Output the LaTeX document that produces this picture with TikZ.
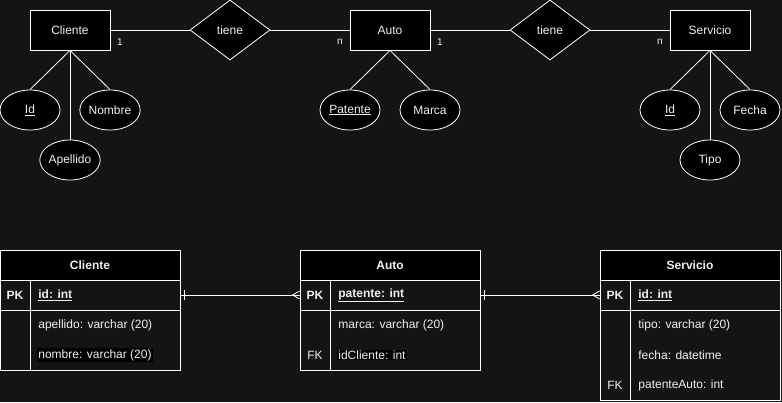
\documentclass[tikz,border=0pt]{standalone}
\usepackage{fontspec}
\setmainfont{Liberation Sans}
\usetikzlibrary{shapes.geometric}
\definecolor{bgc}{HTML}{141414}
\definecolor{txt}{HTML}{F0F0F0}
\tikzset{
  ent/.style={draw=white, fill=black, minimum width=80pt, minimum height=40pt, inner sep=0pt, text=txt, font=\fontsize{12}{14}\selectfont},
  rel/.style={diamond, draw=white, fill=black, minimum width=80pt, minimum height=60pt, inner sep=0pt, aspect=1.333, text=txt, font=\fontsize{12}{14}\selectfont},
  attr/.style={ellipse, draw=white, fill=black, minimum width=60pt, minimum height=40pt, inner sep=0pt, text=txt, font=\fontsize{12}{14}\selectfont},
  lnk/.style={draw=white, line width=0.8pt},
  card/.style={text=txt, font=\fontsize{10}{12}\selectfont, inner sep=0pt},
  thead/.style={draw=white, fill=black, minimum width=180pt, minimum height=30pt, inner sep=0pt, text=txt, font=\bfseries\fontsize{12}{14}\selectfont},
  trow/.style={draw=white, minimum width=180pt, inner sep=0pt},
  key/.style={text=txt, font=\fontsize{12}{14}\selectfont, inner sep=0pt},
  field/.style={anchor=west, text=txt, font=\fontsize{12}{14}\selectfont, inner sep=1pt},
}
\begin{document}
\begin{tikzpicture}[x=1pt, y=-1pt, line width=0.8pt]
\useasboundingbox (0,0) rectangle (782,402);
\fill[bgc] (0,0) rectangle (782,402);

% ---------- ER diagram ----------
\node[ent] (cli) at (70,30) {Cliente};
\node[rel] (r1) at (230,30) {tiene};
\node[ent] (aut) at (390,30) {Auto};
\node[rel] (r2) at (550,30) {tiene};
\node[ent] (ser) at (710,30) {Servicio};

\draw[lnk] (cli.east) -- (r1.west);
\draw[lnk] (r1.east) -- (aut.west);
\draw[lnk] (aut.east) -- (r2.west);
\draw[lnk] (r2.east) -- (ser.west);

\node[card] (c1) at (120,42) {1};
\node[card] (c2) at (340,42) {n};
\node[card] (c3) at (440,42) {1};
\node[card] (c4) at (660,42) {n};

\node[attr] (cid) at (30,110) {\underline{Id}};
\node[attr] (cnom) at (110,110) {Nombre};
\node[attr] (cape) at (70,160) {Apellido};
\draw[lnk] (cli.south) -- (cid.north);
\draw[lnk] (cli.south) -- (cnom.north);
\draw[lnk] (cli.south) -- (cape.north);

\node[attr] (apat) at (350,110) {\underline{Patente}};
\node[attr] (amar) at (430,110) {Marca};
\draw[lnk] (aut.south) -- (apat.north);
\draw[lnk] (aut.south) -- (amar.north);

\node[attr] (sid) at (670,110) {\underline{Id}};
\node[attr] (sfec) at (750,110) {Fecha};
\node[attr] (stip) at (710,160) {Tipo};
\draw[lnk] (ser.south) -- (sid.north);
\draw[lnk] (ser.south) -- (sfec.north);
\draw[lnk] (ser.south) -- (stip.north);

% ---------- Tables ----------
% Cliente
\node[thead] (tch) at (90,265) {Cliente};
\node[trow, minimum height=30pt] (tcpk) at (90,295) {};
\node[trow, minimum height=60pt] (tcb) at (90,340) {};
\draw[white] (30,280) -- (30,370);
\node[key, font=\bfseries\fontsize{12}{14}\selectfont] (tck1) at (15,295) {PK};
\node[field, font=\bfseries\fontsize{12}{14}\selectfont] (tcf1) at (37,295) {\underline{id: int}};
\node[field] (tcf2) at (37,325) {apellido: varchar (20)};
\node[field, fill=black] (tcf3) at (37,355) {nombre: varchar (20)};

% Auto
\node[thead] (tah) at (390,265) {Auto};
\node[trow, minimum height=30pt] (tapk) at (390,295) {};
\node[trow, minimum height=60pt] (tab) at (390,340) {};
\draw[white] (330,280) -- (330,370);
\node[key, font=\bfseries\fontsize{12}{14}\selectfont] (tak1) at (315,295) {PK};
\node[key] (tak2) at (315,355) {FK};
\node[field, font=\bfseries\fontsize{12}{14}\selectfont] (taf1) at (337,295) {\underline{patente: int}};
\node[field] (taf2) at (337,325) {marca: varchar (20)};
\node[field, fill=black] (taf3) at (337,355) {idCliente: int};

% Servicio
\node[thead] (tsh) at (690,265) {Servicio};
\node[trow, minimum height=30pt] (tspk) at (690,295) {};
\node[trow, minimum height=90pt] (tsb) at (690,355) {};
\draw[white] (630,280) -- (630,400);
\node[key, font=\bfseries\fontsize{12}{14}\selectfont] (tsk1) at (615,295) {PK};
\node[key] (tsk2) at (615,385) {FK};
\node[field, font=\bfseries\fontsize{12}{14}\selectfont] (tsf1) at (637,295) {\underline{id: int}};
\node[field] (tsf2) at (637,325) {tipo: varchar (20)};
\node[field] (tsf3) at (637,355) {fecha: datetime};
\node[field] (tsf4) at (637,385) {patenteAuto: int};

% Relationships (one -- many)
\draw[lnk] (tcpk.east) -- (tapk.west);
\draw[lnk] ([xshift=4pt,yshift=-5pt]tcpk.east) -- ([xshift=4pt,yshift=5pt]tcpk.east);
\draw[lnk] ([xshift=-7pt]tapk.west) -- ([yshift=4pt]tapk.west);
\draw[lnk] ([xshift=-7pt]tapk.west) -- ([yshift=-4pt]tapk.west);

\draw[lnk] (tapk.east) -- (tspk.west);
\draw[lnk] ([xshift=4pt,yshift=-5pt]tapk.east) -- ([xshift=4pt,yshift=5pt]tapk.east);
\draw[lnk] ([xshift=-7pt]tspk.west) -- ([yshift=4pt]tspk.west);
\draw[lnk] ([xshift=-7pt]tspk.west) -- ([yshift=-4pt]tspk.west);
\end{tikzpicture}
\end{document}
